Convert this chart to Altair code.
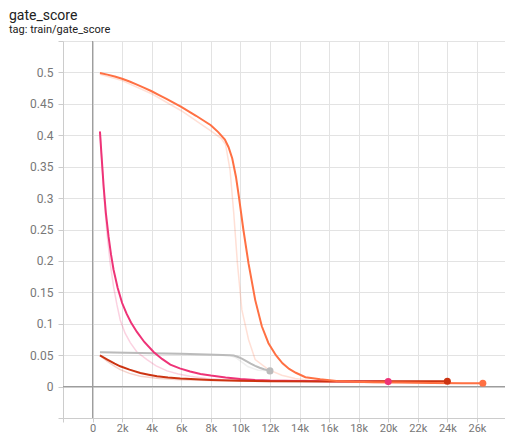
import altair as alt
import pandas as pd

runs = ["gray", "pink", "darkred", "orange"]
run_colors = ["#bbbbbb", "#ee3377", "#cc3311", "#ff7043"]

# ---- orange run ----
orange_steps = [500, 1000, 1500, 2000, 2500, 3000, 3500, 4000, 4500, 5000, 5500, 6000, 6500,
                7000, 7500, 8000, 8500, 8950, 9200, 9450, 9700, 9900, 10200, 10550, 11000,
                11450, 11900, 12400, 12850, 13300, 13750, 14400, 15400, 16500, 17700, 19000,
                21000, 23000, 25000, 26400]
orange_smooth = [0.499, 0.4965, 0.4935, 0.490, 0.4855, 0.4805, 0.4755, 0.470, 0.464, 0.458,
                 0.4515, 0.445, 0.438, 0.431, 0.4235, 0.416, 0.405, 0.393, 0.381, 0.363, 0.334,
                 0.302, 0.250, 0.196, 0.138, 0.096, 0.069, 0.050, 0.037, 0.028, 0.022, 0.015,
                 0.0115, 0.009, 0.0075, 0.0070, 0.0064, 0.0059, 0.0055, 0.0052]
orange_raw_steps = [500, 2000, 4000, 6000, 8000, 8700, 9000, 9300, 9550, 9800, 10100, 10550,
                    11000, 11900, 12800, 13700, 15000, 17000, 20000, 23000, 26400]
orange_raw = [0.497, 0.487, 0.466, 0.439, 0.407, 0.395, 0.385, 0.345, 0.276, 0.196, 0.122,
              0.075, 0.043, 0.027, 0.018, 0.013, 0.009, 0.007, 0.006, 0.0055, 0.005]

# ---- pink run ----
pink_steps = [500, 600, 750, 900, 1080, 1250, 1420, 1700, 2000, 2300, 2600, 3000, 3500, 4130,
              4700, 5260, 5900, 6600, 7300, 8000, 9000, 10000, 11000, 12000, 14000, 16000,
              18000, 20000]
pink_smooth = [0.406, 0.370, 0.318, 0.276, 0.239, 0.210, 0.186, 0.157, 0.133, 0.116, 0.102,
               0.087, 0.071, 0.055, 0.044, 0.035, 0.029, 0.024, 0.020, 0.0175, 0.0145, 0.0122,
               0.0105, 0.0095, 0.0088, 0.0083, 0.0080, 0.0079]
pink_raw_steps = [500, 650, 800, 970, 1200, 1420, 1650, 1870, 2200, 2550, 3000, 3680, 4300,
                  5040, 5800, 6600, 7700, 8900, 12000, 16000, 20000]
pink_raw = [0.406, 0.350, 0.295, 0.245, 0.195, 0.159, 0.130, 0.106, 0.085, 0.070, 0.055,
            0.043, 0.033, 0.025, 0.020, 0.0164, 0.013, 0.011, 0.009, 0.008, 0.0078]

# ---- dark red run ----
darkred_steps = [500, 1000, 1500, 1870, 2500, 3230, 3800, 4360, 5100, 5940, 7000, 8000, 10000,
                 12000, 16000, 20000, 24000]
darkred_smooth = [0.0497, 0.0430, 0.0365, 0.0323, 0.0270, 0.0217, 0.0190, 0.0164, 0.0143,
                  0.0127, 0.0115, 0.0106, 0.0091, 0.0084, 0.0082, 0.0083, 0.0084]
darkred_raw_steps = [500, 1000, 1500, 1870, 2500, 3230, 4500, 5940, 8000, 10000, 24000]
darkred_raw = [0.0497, 0.040, 0.032, 0.027, 0.021, 0.0164, 0.013, 0.011, 0.0095, 0.0088, 0.0083]

# ---- gray run ----
gray_steps = [500, 6000, 8300, 9300, 9550, 9800, 10100, 10400, 10700, 11000, 11300, 11600, 12000]
gray_smooth = [0.0545, 0.0524, 0.0505, 0.0498, 0.0493, 0.0475, 0.0445, 0.0405, 0.0365, 0.0330,
               0.0300, 0.0275, 0.0250]
gray_raw_steps = [500, 9300, 9700, 10100, 10500, 11200, 12000]
gray_raw = [0.0545, 0.0495, 0.046, 0.039, 0.032, 0.026, 0.025]

x_tick_values = [-2000] + list(range(0, 26001, 2000)) + [27900]
y_tick_values = [round(i * 0.05, 2) for i in range(-1, 12)]

smooth_sets = {
    "gray": (gray_steps, gray_smooth),
    "pink": (pink_steps, pink_smooth),
    "darkred": (darkred_steps, darkred_smooth),
    "orange": (orange_steps, orange_smooth),
}
raw_sets = {
    "gray": (gray_raw_steps, gray_raw),
    "pink": (pink_raw_steps, pink_raw),
    "darkred": (darkred_raw_steps, darkred_raw),
    "orange": (orange_raw_steps, orange_raw),
}

rows = []
for run in runs:
    s, v = smooth_sets[run]
    for a, b in zip(s, v):
        rows.append({"run": run, "step": a, "value": b, "kind": "smooth"})
    s, v = raw_sets[run]
    for a, b in zip(s, v):
        rows.append({"run": run, "step": a, "value": b, "kind": "raw"})
df = pd.DataFrame(rows)
ends = pd.DataFrame([{"run": r, "step": smooth_sets[r][0][-1], "value": smooth_sets[r][1][-1]}
                     for r in runs])

grid_c = "#e3e3e3"
edge_c = "#cccccc"
label_c = "#777777"

x_enc = alt.X("step:Q",
              scale=alt.Scale(domain=[-2000, 27900], nice=False, zero=False),
              axis=alt.Axis(values=x_tick_values, tickCount=40, title=None, grid=True,
                            gridColor=grid_c, domainColor=edge_c, tickColor=edge_c, tickSize=4,
                            labelColor=label_c, labelFont="Roboto", labelFontSize=11,
                            labelPadding=0, labelOverlap=False, labelFlush=False,
                            labelExpr="datum.value < -1 || datum.value > 26500 ? '' : (datum.value == 0 ? '0' : format(datum.value/1000, 'd') + 'k')"))
y_enc = alt.Y("value:Q",
              scale=alt.Scale(domain=[-0.05, 0.55], nice=False, zero=False),
              axis=alt.Axis(values=y_tick_values, tickCount=40, title=None, grid=True,
                            gridColor=grid_c, domainColor=edge_c, tickColor=edge_c, tickSize=5,
                            labelColor=label_c, labelFont="Roboto", labelFontSize=12,
                            labelPadding=5, labelOverlap=False, labelFlush=False,
                            labelExpr="datum.value < -0.01 || datum.value > 0.52 ? '' : format(datum.value, '~g')"))
color_enc = alt.Color("run:N", scale=alt.Scale(domain=runs, range=run_colors), legend=None)

base = alt.Chart(df)
zero_x = alt.Chart(ends).mark_rule(color="#9e9e9e", strokeWidth=1).encode(x=alt.datum(0))
zero_y = alt.Chart(ends).mark_rule(color="#9e9e9e", strokeWidth=1).encode(y=alt.datum(0))
raw = base.transform_filter("datum.kind == 'raw'").mark_line(strokeWidth=1.5, opacity=0.22).encode(
    x=x_enc, y=y_enc, color=color_enc, order="step:Q")
smooth = base.transform_filter("datum.kind == 'smooth'").mark_line(strokeWidth=2).encode(
    x=x_enc, y=y_enc, color=color_enc, order="step:Q")
dots = alt.Chart(ends).mark_circle(size=50, opacity=1).encode(x=x_enc, y=y_enc, color=color_enc)

chart = alt.layer(zero_x, zero_y, raw, smooth, dots).properties(
    width=442, height=377,
    autosize=alt.AutoSizeParams(type="none"),
    padding={"left": 55, "top": 33, "right": 0, "bottom": 16},
    title=alt.TitleParams(text="gate_score", subtitle="tag: train/gate_score", anchor="start",
                          frame="group", dx=-54, offset=0, fontSize=14, font="Roboto",
                          fontWeight="normal", color="#212121", subtitleFont="Roboto",
                          subtitleFontSize=11, subtitleColor="#212121", subtitlePadding=1),
).configure_view(stroke=None)

chart.save("out.html", embed_options={"renderer": "svg", "actions": False})
